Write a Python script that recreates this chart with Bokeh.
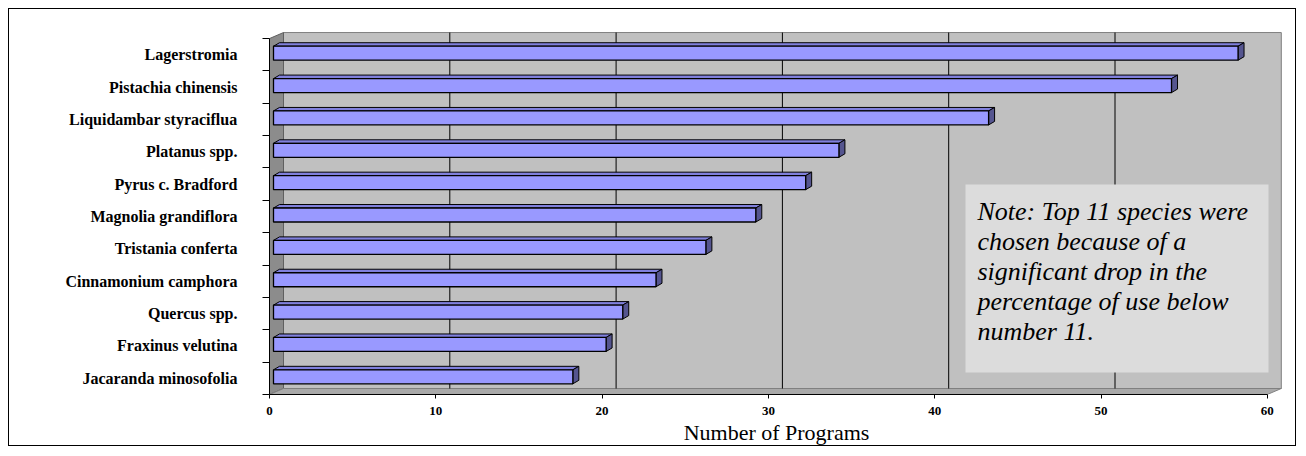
from bokeh.plotting import figure
from bokeh.models import Range1d, FixedTicker, CustomJSTickFormatter, Label
from bokeh.embed import file_html
from bokeh.resources import INLINE

# ---- data ----
species = ["Lagerstromia", "Pistachia chinensis", "Liquidambar styraciflua",
           "Platanus spp.", "Pyrus c. Bradford", "Magnolia grandiflora",
           "Tristania conferta", "Cinnamonium camphora", "Quercus spp.",
           "Fraxinus velutina", "Jacaranda minosofolia"]
programs = [58, 54, 43, 34, 32, 29, 26, 23, 21, 20, 18]
x_ticks = [0, 10, 20, 30, 40, 50, 60]
x_title = "Number of Programs"
note_lines = ["Note:  Top 11 species were", "chosen because of a",
              "significant drop in the", "percentage of use below",
              "number 11."]

# ---- geometry (pixels per unit) ----
SX = 16.63          # px per program
SY = 32.36          # px per category slot
n = len(species)
XMAX = x_ticks[-1]
FRAME_W = 1014
FRAME_H = 363
DX = 14 / SX        # 3D depth offset of back wall
DY = 6 / SY
BFX = 4 / SX        # bar front depth
BFY = 1.5 / SY
BDX = 6 / SX        # bar depth
BDY = 3.5 / SY
BH = 14 / SY        # bar thickness

p = figure(width=1288, height=438, output_backend="svg", toolbar_location=None,
           x_range=Range1d(0, FRAME_W / SX), y_range=Range1d(0, FRAME_H / SY),
           min_border_left=260, min_border_right=14, min_border_top=22,
           min_border_bottom=53)
p.styles = {"border": "1px solid black", "margin": "8px 0px 0px 8px"}
p.outline_line_color = None
p.grid.visible = False
p.background_fill_color = "white"
p.border_fill_color = "white"

# walls
p.patch([DX, XMAX + DX, XMAX + DX, DX], [DY, DY, n + DY, n + DY],
        fill_color="#C0C0C0", line_color="#808080", line_width=1)
p.patch([0, DX, DX, 0], [0, DY, n + DY, n], fill_color="#8C8C8C",
        line_color="#606060", line_width=1)
p.patch([0, XMAX, XMAX + DX, DX], [0, 0, DY, DY], fill_color="#A9A9A9",
        line_color="#808080", line_width=1)

# back-wall gridlines
gx = [t + DX for t in x_ticks[1:-1]]
p.segment(x0=gx, y0=[DY] * len(gx), x1=gx, y1=[n + DY] * len(gx),
          line_color="black", line_width=1)

# bars (3D boxes)
centers = [n - 1 - i + 0.5 for i in range(n)]
L = [BFX] * n
R = [v + BFX for v in programs]
B = [c - BH / 2 + BFY for c in centers]
T = [c + BH / 2 + BFY for c in centers]
top_xs = [[l, r, r + BDX, l + BDX] for l, r in zip(L, R)]
top_ys = [[t, t, t + BDY, t + BDY] for t in T]
side_xs = [[r, r + BDX, r + BDX, r] for r in R]
side_ys = [[b, b + BDY, t + BDY, t] for b, t in zip(B, T)]
p.patches(top_xs, top_ys, fill_color="#8080DD", line_color="black", line_width=1)
p.patches(side_xs, side_ys, fill_color="#55558F", line_color="black", line_width=1)
p.quad(left=L, right=R, bottom=B, top=T, fill_color="#9999FF",
       line_color="black", line_width=1.3)

# note box
p.quad(left=[(965 - 269) / SX], right=[(1268 - 269) / SX],
       bottom=[(394 - 372) / SY], top=[(394 - 184) / SY],
       fill_color="#DCDCDC", line_color=None)
nx = (977 - 269) / SX
for i, line in enumerate(note_lines):
    p.add_layout(Label(x=nx, y=(394 - 211 - 30 * i) / SY, text=line,
                       text_font="Liberation Serif", text_font_style="italic",
                       text_font_size="26px", text_color="black",
                       text_baseline="middle", text_align="left"))

# x axis
xa = p.xaxis[0]
xa.ticker = FixedTicker(ticks=x_ticks)
xa.bounds = (0, XMAX)
xa.axis_line_color = "black"
xa.major_tick_out = 4
xa.major_tick_in = 0
xa.minor_tick_line_color = None
xa.major_label_standoff = 8
xa.major_label_text_font = "Liberation Serif"
xa.major_label_text_font_style = "bold"
xa.major_label_text_font_size = "13px"
xa.major_label_text_color = "black"
xa.axis_label = x_title
xa.axis_label_text_font = "Liberation Serif"
xa.axis_label_text_font_style = "normal"
xa.axis_label_text_font_size = "22px"
xa.axis_label_text_color = "black"
xa.axis_label_standoff = 2

# y axis
ya = p.yaxis[0]
ya.ticker = FixedTicker(ticks=centers, minor_ticks=list(range(n + 1)))
ya.formatter = CustomJSTickFormatter(args=dict(names=species[::-1]),
                                     code="return names[Math.floor(tick)] || '';")
ya.bounds = (0, n)
ya.axis_line_color = "black"
ya.major_tick_out = 0
ya.major_tick_in = 0
ya.minor_tick_out = 7
ya.minor_tick_in = 0
ya.minor_tick_line_color = "black"
ya.major_label_standoff = 25
ya.major_label_text_font = "Liberation Serif"
ya.major_label_text_font_style = "bold"
ya.major_label_text_font_size = "16px"
ya.major_label_text_color = "black"

open("out.html", "w").write(file_html(p, INLINE))
